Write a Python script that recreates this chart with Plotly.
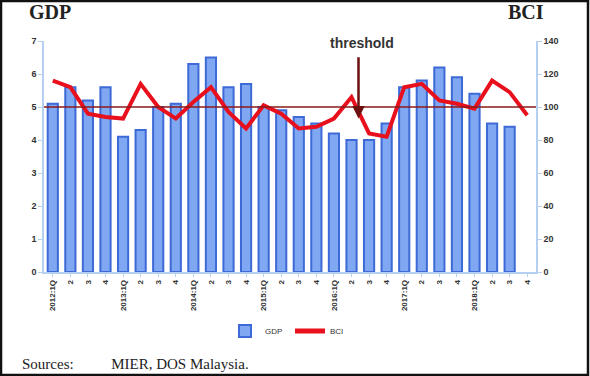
import plotly.graph_objects as go

quarters = ["2012:1Q", "2", "3", "4",
            "2013:1Q", "2", "3", "4",
            "2014:1Q", "2", "3", "4",
            "2015:1Q", "2", "3", "4",
            "2016:1Q", "2", "3", "4",
            "2017:1Q", "2", "3", "4",
            "2018:1Q", "2", "3", "4"]
gdp = [5.1, 5.6, 5.2, 5.6, 4.1, 4.3, 5.0, 5.1, 6.3, 6.5, 5.6, 5.7,
       5.0, 4.9, 4.7, 4.5, 4.2, 4.0, 4.0, 4.5, 5.6, 5.8, 6.2, 5.9,
       5.4, 4.5, 4.4, None]
bci = [116, 112, 96, 94, 93, 114, 100, 93, 103, 112, 97, 87,
       101, 96, 87, 88, 93, 106, 84, 82, 112, 114, 104, 102,
       99, 116, 109, 95]
threshold_level = 100
threshold_idx = 17
gdp_ticks = [0, 1, 2, 3, 4, 5, 6, 7]
bci_ticks = [0, 20, 40, 60, 80, 100, 120, 140]

xs = list(range(len(quarters)))

fig = go.Figure()
fig.add_trace(go.Bar(
    x=xs, y=gdp, name="GDP", width=0.58,
    marker=dict(color="#80A7F1", line=dict(color="#3D6AD6", width=2)),
    yaxis="y"))
fig.add_trace(go.Scatter(
    x=xs, y=bci, name="BCI", mode="lines",
    line=dict(color="#E8101C", width=4), yaxis="y2"))
fig.add_trace(go.Scatter(
    x=[-0.5, len(quarters) - 0.5], y=[threshold_level, threshold_level],
    mode="lines", line=dict(color="#8B1A1A", width=1.5),
    showlegend=False, yaxis="y2", hoverinfo="skip"))

axis_line = "#B5D0F0"
tick_font = dict(family="Arial", size=9, color="#333333")
fig.update_layout(
    width=590, height=376,
    margin=dict(l=44, r=54, t=41, b=104),
    paper_bgcolor="white", plot_bgcolor="white",
    xaxis=dict(range=[-0.5, len(quarters) - 0.5], showgrid=False, zeroline=False,
               tickvals=xs, ticktext=["<b>%s</b>" % q for q in quarters],
               showline=True, linecolor=axis_line, linewidth=1.5,
               ticks="outside", ticklen=3, tickcolor=axis_line,
               tickangle=-90, tickfont=dict(family="Arial", size=8, color="#333333")),
    yaxis=dict(range=[0, 7], tickvals=gdp_ticks, ticktext=["<b>%d</b>" % v for v in gdp_ticks],
               showgrid=False, zeroline=False,
               showline=True, linecolor=axis_line, linewidth=1.5,
               ticks="outside", ticklen=4, tickcolor=axis_line, tickfont=tick_font),
    yaxis2=dict(range=[0, 140], tickvals=bci_ticks, ticktext=["<b>%d</b>" % v for v in bci_ticks],
                overlaying="y", side="right",
                showgrid=False, zeroline=False,
                showline=True, linecolor=axis_line, linewidth=1.5,
                ticks="outside", ticklen=4, tickcolor=axis_line, tickfont=tick_font),
    legend=dict(orientation="h", x=0.5, xanchor="center", y=-0.255, yanchor="middle",
                font=dict(family="Arial", size=8, color="#333333"),
                itemwidth=30, tracegroupgap=0, itemsizing="constant",
                entrywidth=20, entrywidthmode="pixels"),
    showlegend=True,
)

fig.add_annotation(text="<b>GDP</b>", xref="paper", yref="paper", x=-0.035, y=1.0,
                   yshift=29, xanchor="left", yanchor="middle", showarrow=False,
                   font=dict(family="Liberation Serif, Times New Roman", size=20, color="#222222"))
fig.add_annotation(text="<b>BCI</b>", xref="paper", yref="paper", x=1.02, y=1.0,
                   yshift=29, xanchor="right", yanchor="middle", showarrow=False,
                   font=dict(family="Liberation Serif, Times New Roman", size=20, color="#222222"))
fig.add_annotation(text="<b>threshold</b>", x=threshold_idx, y=139, xref="x", yref="y2",
                   xshift=10, yanchor="middle", showarrow=False,
                   font=dict(family="Arial", size=14, color="#333333"))
fig.add_annotation(x=threshold_idx, y=93, ax=threshold_idx, ay=131, xref="x", yref="y2",
                   axref="x", ayref="y2", xshift=7, text="", showarrow=True,
                   arrowhead=2, arrowsize=1, arrowwidth=2.5, arrowcolor="#6B0F0F")
fig.add_annotation(text="Sources:&nbsp;&nbsp;&nbsp;&nbsp;&nbsp;&nbsp;&nbsp;&nbsp;&nbsp;&nbsp;MIER, DOS Malaysia.",
                   xref="paper", yref="paper", x=-0.049, y=0, yshift=-92,
                   xanchor="left", yanchor="middle", showarrow=False,
                   font=dict(family="Liberation Serif, Times New Roman", size=15, color="#222222"))
fig.add_shape(type="rect", xref="paper", yref="paper",
              x0=-43/492, x1=1 + 52/492, y0=-103/231, y1=1 + 40/231,
              line=dict(color="#111111", width=2.5), fillcolor="rgba(0,0,0,0)")

fig.write_html("out.html")
